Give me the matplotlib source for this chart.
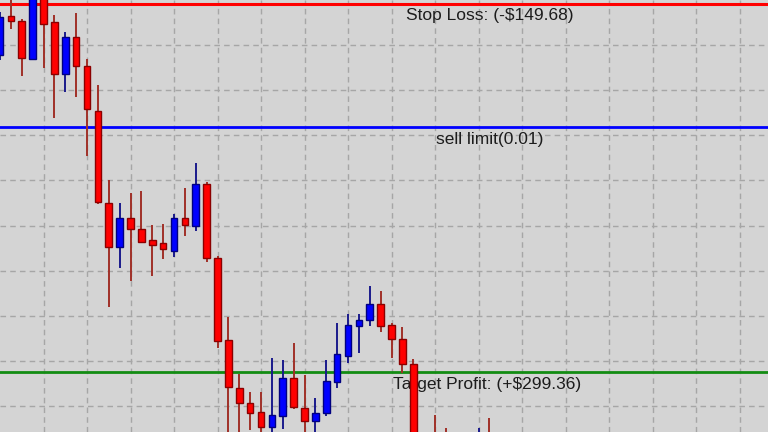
import matplotlib
matplotlib.use("Agg")
import matplotlib.pyplot as plt
import numpy as np

# candle data (arbitrary price units), oldest first
opens = [445, 484, 479, 441, 510, 478, 426, 463, 434, 389,
         297, 253, 282, 271, 260, 257, 249, 282, 274, 316,
         242, 160, 112, 97, 88, 73, 84, 122, 92, 79,
         87, 118, 144, 174, 180, 196, 175, 161, 136, 45,
         60, 60, 50, 55, 50, 64]
highs = [488, 506, 481, 512, 515, 485, 468, 487, 441, 415,
         320, 297, 307, 309, 275, 276, 286, 312, 337, 318,
         244, 183, 126, 108, 108, 142, 140, 157, 125, 102,
         140, 177, 186, 186, 214, 209, 177, 173, 141, 60,
         85, 72, 63, 64, 72, 82]
lows = [440, 471, 424, 440, 432, 382, 408, 403, 344, 296,
        193, 232, 219, 257, 224, 241, 243, 264, 269, 238,
        152, 60, 60, 70, 60, 60, 71, 91, 67, 64,
        84, 112, 137, 147, 174, 168, 142, 127, 30, 20,
        30, 40, 38, 42, 45, 45]
closes = [483, 479, 442, 505, 476, 426, 463, 434, 391, 298,
          253, 282, 271, 258, 255, 251, 282, 275, 316, 242,
          159, 113, 97, 87, 73, 85, 122, 93, 79, 87,
          119, 146, 175, 180, 196, 174, 161, 136, 45, 32,
          48, 50, 55, 48, 62, 52]

stop_loss = 496
sell_limit = 373
take_profit = 128

labels = ["Stop Loss: (-$149.68)", "sell limit(0.01)", "Target Profit: (+$299.36)"]


def main() -> None:
    plt.rcParams["font.family"] = ["Liberation Sans", "DejaVu Sans"]
    fig = plt.figure(figsize=(7.68, 4.32), dpi=100)
    ax = fig.add_axes([0, 0, 1, 1])
    ax.set_facecolor("#d4d4d4")

    x = np.arange(len(opens))
    o = np.array(opens)
    h = np.array(highs)
    l = np.array(lows)
    c = np.array(closes)
    up = c > o

    wick_col = np.where(up, "#1a1a8c", "#a03028")
    ax.vlines(x, l, h, colors=wick_col, linewidth=1.4, zorder=4)

    body_col = np.where(up, "#0000ff", "#ff0000")
    edge_col = np.where(up, "#000080", "#8b0000")
    bottoms = np.minimum(o, c)
    heights = np.maximum(np.abs(c - o), 2)
    ax.bar(x, heights, bottom=bottoms, width=0.62, color=body_col,
           edgecolor=edge_col, linewidth=1, zorder=5)

    ax.axhline(stop_loss, color="#ff0000", linewidth=2.2, zorder=3)
    ax.axhline(sell_limit, color="#0000ff", linewidth=2.0, zorder=3)
    ax.axhline(take_profit, color="#128c12", linewidth=2.0, zorder=3)

    txt = dict(transform=ax.transAxes, fontsize=12.5, color="#1c1c1c",
               ha="left", va="center", zorder=2)
    ax.text(0.5286, 0.963, labels[0], **txt)
    ax.text(0.5677, 0.678, labels[1], **txt)
    ax.text(0.5117, 0.111, labels[2], **txt)

    ax.set_xlim(0, 768 / 10.875)
    ax.set_ylim(68, 500)
    ax.set_xticks(np.arange(4, 70, 4))
    ax.set_yticks(500 - 45.1 * np.arange(1, 10))
    ax.grid(True, linestyle=(0, (4, 3)), color="#a6a6a6", linewidth=1, zorder=1)
    ax.set_axisbelow(True)
    ax.tick_params(length=0, labelbottom=False, labelleft=False)
    for s in ax.spines.values():
        s.set_visible(False)

    fig.savefig("out.png", dpi=100)


if __name__ == "__main__":
    main()
